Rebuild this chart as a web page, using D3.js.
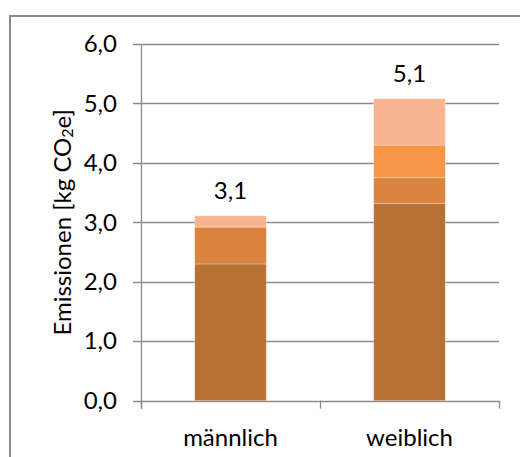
<!DOCTYPE html>
<html>
<head>
<meta charset="utf-8">
<script src="https://cdn.jsdelivr.net/npm/d3@7/dist/d3.min.js"></script>
<style>
  html, body { margin: 0; padding: 0; background: #fff; }
  svg { display: block; }
  text { font-family: Lato, "Open Sans", sans-serif; fill: #000; }
</style>
</head>
<body>
<svg id="chart" width="520" height="457"></svg>
<script>
// Emissions per person by gender, stacked by component
const categories = ["männlich", "weiblich"];
const seriesNames = ["s1", "s2", "s3", "s4"];
const s1 = [2.30, 3.32];
const s2 = [0.62, 0.43];
const s3 = [0.00, 0.55];
const s4 = [0.19, 0.78];
const seriesColors = ["#B87034", "#DA833F", "#F79646", "#F9B591"];
const yTicks = [0, 1, 2, 3, 4, 5, 6];
const yTitle = "Emissionen [kg CO";
const totalLabels = ["3,1", "5,1"];

const fontSize = "24px";
const svg = d3.select("#chart");

// outer frame
svg.append("path")
  .attr("d", "M10,457 V16 H520")
  .attr("fill", "none")
  .attr("stroke", "#8a8a8a")
  .attr("stroke-width", 2);

const plot = { left: 141, right: 499, top: 44, bottom: 400.7 };

const x = d3.scaleBand()
  .domain(categories)
  .range([plot.left, plot.right])
  .paddingInner(0.6)
  .paddingOuter(0.3);

const y = d3.scaleLinear()
  .domain([0, 6])
  .range([plot.bottom, plot.top]);

// gridlines
svg.append("g")
  .selectAll("line")
  .data(yTicks)
  .join("line")
  .attr("x1", plot.left - 8)
  .attr("x2", plot.right)
  .attr("y1", d => Math.round(y(d)) + 0.5)
  .attr("y2", d => Math.round(y(d)) + 0.5)
  .attr("stroke", "#8c8c8c")
  .attr("stroke-width", 1.3);

// stacked bars
const rows = categories.map((c, i) => ({
  cat: c, s1: s1[i], s2: s2[i], s3: s3[i], s4: s4[i]
}));
const stacked = d3.stack().keys(seriesNames)(rows);

svg.append("g")
  .selectAll("g")
  .data(stacked)
  .join("g")
  .attr("fill", (d, i) => seriesColors[i])
  .selectAll("rect")
  .data(d => d.filter(p => p[1] - p[0] > 0))
  .join("rect")
  .attr("x", d => x(d.data.cat))
  .attr("width", x.bandwidth())
  .attr("y", d => y(d[1]))
  .attr("height", d => y(d[0]) - y(d[1]))
  .attr("stroke", "rgba(255,255,255,0.35)")
  .attr("stroke-width", 0.8);

// y axis
const yAxis = d3.axisLeft(y)
  .tickValues(yTicks)
  .tickSize(0)
  .tickPadding(24)
  .tickFormat(d => d3.format(".1f")(d).replace(".", ","));

const gy = svg.append("g")
  .attr("transform", `translate(${plot.left},0)`)
  .call(yAxis);
gy.select(".domain").remove();
gy.selectAll("text")
  .style("font-family", "Lato, 'Open Sans', sans-serif")
  .style("font-size", fontSize)
  .attr("fill", "#000");

svg.append("line")
  .attr("x1", plot.left + 0.5).attr("x2", plot.left + 0.5)
  .attr("y1", plot.top).attr("y2", plot.bottom + 8)
  .attr("stroke", "#8c8c8c").attr("stroke-width", 1.3);

// x axis baseline with category boundary ticks
const boundaries = [plot.left, (plot.left + plot.right) / 2, plot.right];
svg.append("g")
  .selectAll("line")
  .data(boundaries)
  .join("line")
  .attr("x1", d => d + 0.5).attr("x2", d => d + 0.5)
  .attr("y1", plot.bottom).attr("y2", plot.bottom + 8)
  .attr("stroke", "#8c8c8c").attr("stroke-width", 1.3);

svg.append("g")
  .selectAll("text")
  .data(categories)
  .join("text")
  .attr("x", d => x(d) + x.bandwidth() / 2)
  .attr("y", 436)
  .attr("text-anchor", "middle")
  .attr("dominant-baseline", "central")
  .style("font-size", fontSize)
  .text(d => d);

// totals above bars
svg.append("g")
  .selectAll("text")
  .data(rows)
  .join("text")
  .attr("x", d => x(d.cat) + x.bandwidth() / 2)
  .attr("y", d => y(d.s1 + d.s2 + d.s3 + d.s4) - 26)
  .attr("text-anchor", "middle")
  .attr("dominant-baseline", "central")
  .style("font-size", fontSize)
  .text((d, i) => totalLabels[i]);

// y axis title with subscript
const title = svg.append("text")
  .attr("transform", `translate(61,${(plot.top + plot.bottom) / 2}) rotate(-90)`)
  .attr("text-anchor", "middle")
  .attr("dominant-baseline", "central")
  .style("font-size", fontSize);
title.append("tspan").text(yTitle);
title.append("tspan").attr("dy", 5).style("font-size", "16px").text("2");
title.append("tspan").attr("dy", -5).text("e]");
</script>
</body>
</html>
